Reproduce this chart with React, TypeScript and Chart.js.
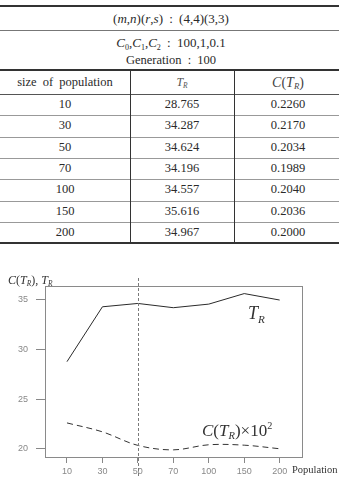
import React, { useEffect, useRef } from "react";
import { Chart, registerables } from "chart.js";

Chart.register(...registerables);

const populations = ["10", "30", "50", "70", "100", "150", "200"];
const trValues = [28.765, 34.287, 34.624, 34.196, 34.557, 35.616, 34.967];
const ctrValues = [0.226, 0.217, 0.2034, 0.1989, 0.204, 0.2036, 0.2];
const ctrScaled = ctrValues.map((v) => v * 100);
const yTickValues = [20, 25, 30, 35];
const markedIndex = 2; // population 50

const SERIF = "'Liberation Serif', 'DejaVu Serif', serif";
const SANS = "'Liberation Sans', Arial, sans-serif";

const Sub = ({ children }: { children: any }) => (
  <span style={{ fontSize: "0.62em", position: "relative", top: "0.32em" }}>{children}</span>
);

const TR = () => (
  <span style={{ whiteSpace: "nowrap" }}>
    <i>T</i>
    <Sub>
      <i>R</i>
    </Sub>
  </span>
);

const CTR = () => (
  <span style={{ whiteSpace: "nowrap" }}>
    <i>C</i>(<TR />)
  </span>
);

function ChartCanvas() {
  const ref = useRef<HTMLCanvasElement | null>(null);
  useEffect(() => {
    if (!ref.current) return;
    const framePlugin = {
      id: "frame",
      afterDraw(chart: any) {
        const { ctx, chartArea: a, scales } = chart;
        ctx.save();
        ctx.strokeStyle = "#8a8a8a";
        ctx.lineWidth = 1;
        ctx.strokeRect(
          Math.round(a.left) + 0.5,
          Math.round(a.top) + 0.5,
          Math.round(a.right - a.left),
          Math.round(a.bottom - a.top)
        );
        const x = Math.round(scales.x.getPixelForValue(markedIndex)) + 0.5;
        ctx.setLineDash([3, 2]);
        ctx.strokeStyle = "#7a7a7a";
        ctx.beginPath();
        ctx.moveTo(x, a.top - 8);
        ctx.lineTo(x, chart.height);
        ctx.stroke();
        ctx.restore();
      },
    };
    const chart = new Chart(ref.current, {
      type: "line",
      data: {
        datasets: [
          {
            label: "T_R",
            data: trValues.map((v, i) => ({ x: i, y: v })),
            borderColor: "#2a2a2a",
            borderWidth: 1,
            pointRadius: 0,
            tension: 0,
          },
          {
            label: "C(T_R)x10^2",
            data: ctrScaled.map((v, i) => ({ x: i, y: v })),
            borderColor: "#333",
            borderWidth: 1,
            borderDash: [6, 4],
            pointRadius: 0,
            tension: 0.35,
          },
        ],
      },
      options: {
        responsive: false,
        animation: false,
        layout: { padding: { top: 24, right: 37, left: 0, bottom: 0 } },
        plugins: { legend: { display: false }, tooltip: { enabled: false } },
        scales: {
          x: {
            type: "linear",
            min: -0.62,
            max: 6.63,
            afterFit: (s: any) => {
              s.height = 20;
            },
            afterBuildTicks: (s: any) => {
              s.ticks = populations.map((_, i) => ({ value: i }));
            },
            ticks: {
              callback: (v: any) => populations[v],
              font: { family: SANS, size: 9 },
              color: "#888",
              padding: 3,
              maxRotation: 0,
            },
            grid: { display: true, drawOnChartArea: false, drawTicks: true, tickLength: 6, color: "#888" },
            border: { display: true, color: "#888" },
          },
          y: {
            type: "linear",
            min: 19.17,
            max: 36.38,
            afterFit: (s: any) => {
              s.width = 45;
            },
            afterBuildTicks: (s: any) => {
              s.ticks = yTickValues.map((v) => ({ value: v }));
            },
            ticks: {
              font: { family: SANS, size: 9 },
              color: "#888",
              padding: 8,
            },
            grid: { display: true, drawOnChartArea: false, drawTicks: true, tickLength: 9, color: "#888" },
            border: { display: true, color: "#888" },
          },
        },
      },
      plugins: [framePlugin],
    } as any);
    return () => chart.destroy();
  }, []);
  return (
    <canvas
      ref={ref}
      width={339}
      height={215}
      style={{ position: "absolute", left: 0, top: 262, width: 339, height: 215 }}
    />
  );
}

const hLine = (top: number, h: number, color: string) => (
  <div style={{ position: "absolute", left: 0, width: 342, top, height: h, background: color }} />
);

export default function App() {
  const rowH = 21.33;
  const cols = [
    { left: 0, width: 130 },
    { left: 130, width: 104 },
    { left: 234, width: 108 },
  ];
  const cell = (top: number, h: number, c: number, content: any, extra: any = {}) => (
    <div
      style={{
        position: "absolute",
        left: cols[c].left,
        width: cols[c].width,
        top,
        height: h,
        display: "flex",
        alignItems: "center",
        justifyContent: "center",
        ...extra,
      }}
    >
      {content}
    </div>
  );
  return (
    <div
      style={{
        position: "absolute",
        left: 0,
        top: 0,
        width: 339,
        height: 477,
        overflow: "hidden",
        background: "#fff",
        fontFamily: SERIF,
        fontSize: 12.5,
        color: "#2a2a2a",
        wordSpacing: 3,
      }}
    >
      {hLine(5, 2, "#333")}
      {hLine(30, 1, "#777")}
      {hLine(69, 2, "#333")}
      {hLine(94, 1, "#555")}
      {populations.slice(0, -1).map((_, i) => (
        <React.Fragment key={"l" + i}>{hLine(Math.round(94 + (i + 1) * rowH), 1, "#999")}</React.Fragment>
      ))}
      {hLine(242, 2, "#333")}
      <div style={{ position: "absolute", left: 130, top: 70, width: 1, height: 173, background: "#333" }} />
      <div style={{ position: "absolute", left: 234, top: 70, width: 1, height: 173, background: "#333" }} />

      <div style={{ position: "absolute", left: 0, width: 342, top: 7, height: 23, display: "flex", alignItems: "center", justifyContent: "center", fontSize: 13 }}>
        <span>
          (<i>m</i>,<i>n</i>)(<i>r</i>,<i>s</i>) : (4,4)(3,3)
        </span>
      </div>
      <div style={{ position: "absolute", left: 0, width: 342, top: 34, height: 18, display: "flex", alignItems: "center", justifyContent: "center", fontSize: 13 }}>
        <span>
          <i>C</i>
          <Sub>0</Sub>,<i>C</i>
          <Sub>1</Sub>,<i>C</i>
          <Sub>2</Sub> : 100,1,0.1
        </span>
      </div>
      <div style={{ position: "absolute", left: 0, width: 342, top: 51, height: 18, display: "flex", alignItems: "center", justifyContent: "center" }}>
        <span>Generation : 100</span>
      </div>

      {cell(71, 23, 0, <span>size of population</span>)}
      {cell(71, 23, 1, <TR />, { fontSize: 12, color: "#555" })}
      {cell(71, 23, 2, <CTR />, { fontSize: 14, color: "#444" })}

      {populations.map((p, i) => (
        <React.Fragment key={"r" + i}>
          {cell(94 + i * rowH, rowH, 0, <span>{p}</span>)}
          {cell(94 + i * rowH, rowH, 1, <span>{trValues[i].toFixed(3)}</span>)}
          {cell(94 + i * rowH, rowH, 2, <span>{ctrValues[i].toFixed(4)}</span>)}
        </React.Fragment>
      ))}

      <ChartCanvas />

      <div style={{ position: "absolute", left: 8, top: 274, fontSize: 12, lineHeight: 1, whiteSpace: "nowrap", wordSpacing: 0, color: "#333" }}>
        <CTR />, <TR />
      </div>
      <div style={{ position: "absolute", left: 248, top: 304, fontSize: 18, lineHeight: 1, whiteSpace: "nowrap", color: "#333" }}>
        <TR />
      </div>
      <div style={{ position: "absolute", left: 202, top: 422, fontSize: 17, lineHeight: 1, whiteSpace: "nowrap", wordSpacing: 0, color: "#333" }}>
        <CTR />×10<span style={{ fontSize: "0.6em", position: "relative", top: "-0.7em" }}>2</span>
      </div>
      <div style={{ position: "absolute", left: 292, top: 464.5, fontSize: 10.5, lineHeight: 1, whiteSpace: "nowrap", color: "#333" }}>
        Population
      </div>
    </div>
  );
}
